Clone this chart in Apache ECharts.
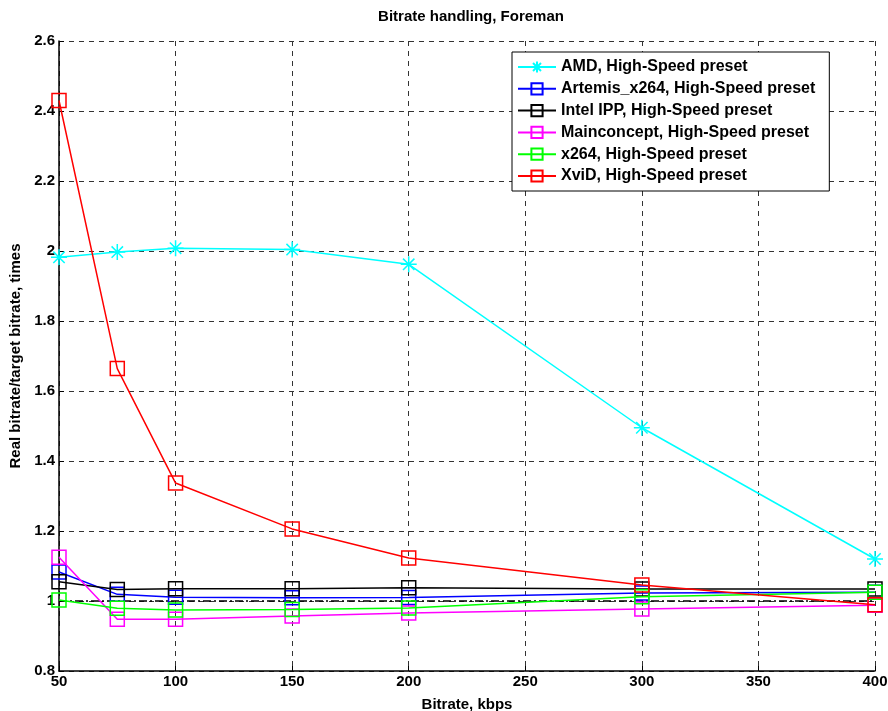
<!DOCTYPE html>
<html>
<head>
<meta charset="utf-8">
<script src="https://cdn.jsdelivr.net/npm/echarts@6/dist/echarts.min.js"></script>
<style>
html,body{margin:0;padding:0;background:#fff;}
#chart{width:888px;height:711px;}
</style>
</head>
<body>
<div id="chart"></div>
<script>
const bitrates = [50, 75, 100, 150, 200, 300, 400];
const amd        = [1.982, 1.997, 2.008, 2.004, 1.962, 1.495, 1.120];
const artemis    = [1.083, 1.019, 1.011, 1.009, 1.010, 1.023, 1.025];
const intelIPP   = [1.055, 1.033, 1.035, 1.035, 1.038, 1.034, 1.034];
const mainconcept= [1.125, 0.948, 0.948, 0.957, 0.966, 0.977, 0.988];
const x264       = [1.003, 0.979, 0.974, 0.976, 0.980, 1.012, 1.025];
const xvid       = [2.430, 1.664, 1.337, 1.206, 1.123, 1.046, 0.989];
const refX = [50, 400];
const refY = [1, 1];
const seriesNames = [
  'AMD, High-Speed preset',
  'Artemis_x264, High-Speed preset',
  'Intel IPP, High-Speed preset',
  'Mainconcept, High-Speed preset',
  'x264, High-Speed preset',
  'XviD, High-Speed preset'
];
const xTicks = [50, 100, 150, 200, 250, 300, 350, 400];
const yTicks = [0.8, 1, 1.2, 1.4, 1.6, 1.8, 2, 2.2, 2.4, 2.6];

const FONT = 'Liberation Sans, Arial, sans-serif';
const star = 'path://M0,-8L0,8M-8,0L8,0M-5.7,-5.7L5.7,5.7M-5.7,5.7L5.7,-5.7';
const colors = ['#00ffff', '#0000ff', '#000000', '#ff00ff', '#00ff00', '#ff0000'];
const values = [amd, artemis, intelIPP, mainconcept, x264, xvid];

function mk(i) {
  const isStar = i === 0;
  return {
    name: seriesNames[i],
    type: 'line',
    data: bitrates.map((b, k) => [b, values[i][k]]),
    symbol: isStar ? star : 'rect',
    symbolSize: isStar ? 16 : 14,
    showAllSymbol: true,
    lineStyle: { color: colors[i], width: 1.5 },
    itemStyle: { color: 'rgba(0,0,0,0)', borderColor: colors[i], borderWidth: 1.5 },
    emphasis: { disabled: true },
    z: 3 + i,
    animation: false
  };
}

const series = [
  {
    name: 'ref',
    type: 'line',
    data: refX.map((x, k) => [x, refY[k]]),
    symbol: 'none',
    lineStyle: { color: '#000', width: 1.5, type: [8, 3, 2, 3] },
    z: 2,
    animation: false,
    silent: true
  }
];
for (let i = 0; i < 6; i++) series.push(mk(i));

const chart = echarts.init(document.getElementById('chart'), null, { renderer: 'canvas' });
chart.setOption({
  backgroundColor: '#fff',
  animation: false,
  title: {
    text: 'Bitrate handling, Foreman',
    left: 466, top: 4, textAlign: 'center',
    textStyle: { fontFamily: FONT, fontWeight: 'bold', fontSize: 15, color: '#000' }
  },
  grid: { left: 59, right: 13, top: 41, bottom: 40, containLabel: false, outerBoundsMode: 'none' },
  legend: {
    data: seriesNames,
    orient: 'vertical',
    left: 512, top: 52,
    itemWidth: 38, itemHeight: 14,
    itemGap: 5.8,
    padding: [7, 14, 7, 5],
    backgroundColor: '#fff',
    borderColor: '#000', borderWidth: 1,
    textStyle: { fontFamily: FONT, fontWeight: 'bold', fontSize: 16, color: '#000' },
    selectedMode: false
  },
  xAxis: {
    type: 'value', min: 50, max: 400, interval: 50,
    name: 'Bitrate, kbps', nameLocation: 'middle', nameGap: 26,
    nameTextStyle: { fontFamily: FONT, fontWeight: 'bold', fontSize: 15, color: '#000' },
    axisLine: { lineStyle: { color: '#000', width: 1.5 }, onZero: false },
    axisTick: { inside: true, length: 5, lineStyle: { color: '#000' } },
    axisLabel: { fontFamily: FONT, fontWeight: 'bold', fontSize: 15, color: '#000', margin: 3,
      formatter: v => xTicks.includes(v) ? String(v) : '' },
    splitLine: { show: true, lineStyle: { color: '#333', width: 1, type: [5, 5] } }
  },
  yAxis: {
    type: 'value', min: 0.8, max: 2.6, interval: 0.2,
    name: 'Real bitrate/target bitrate, times', nameLocation: 'middle', nameGap: 34,
    nameTextStyle: { fontFamily: FONT, fontWeight: 'bold', fontSize: 15, color: '#000' },
    axisLine: { lineStyle: { color: '#000', width: 1.5 }, onZero: false },
    axisTick: { inside: true, length: 5, lineStyle: { color: '#000' } },
    axisLabel: { fontFamily: FONT, fontWeight: 'bold', fontSize: 15, color: '#000', margin: 4,
      formatter: v => { const r = Math.round(v * 10) / 10; return yTicks.includes(r) ? String(r) : ''; } },
    splitLine: { show: true, lineStyle: { color: '#333', width: 1, type: [5, 5] } }
  },
  series: series
});
</script>
</body>
</html>
